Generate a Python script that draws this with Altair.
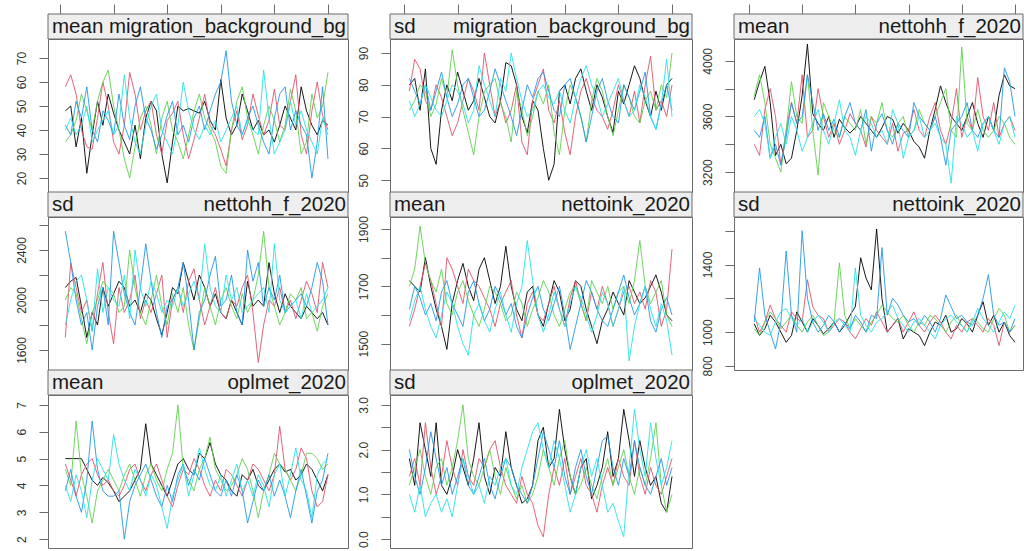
import altair as alt
import pandas as pd

CHAINS = ["1", "2", "3", "4", "5"]
COLORS = ["#000000", "#DF536B", "#61D04F", "#2297E6", "#28E2E5"]
ITER_TICKS = [0, 10, 20, 30, 40, 50]

# ---- mean migration_background_bg ----
p1 = [
    [48,50,33,45,22,38,52,42,55,47,40,35,30,42,28,45,52,48,30,18,35,50,48,49,48,47,52,44,40,61,45,38,42,55,48,40,44,38,40,35,42,50,45,40,58,48,42,38,44,42],
    [58,63,55,40,33,32,45,60,50,35,30,42,64,55,40,48,52,38,30,44,47,52,38,28,36,45,55,42,38,32,25,40,48,36,42,55,46,38,44,57,42,40,52,63,38,30,48,60,46,40],
    [35,38,44,55,48,40,52,60,65,50,40,28,20,33,45,50,42,30,45,52,40,35,28,38,48,55,45,40,35,25,22,40,52,58,45,38,30,42,50,44,35,42,57,48,30,35,55,45,50,64],
    [42,38,52,45,58,40,35,48,44,38,55,42,36,50,58,45,40,32,38,46,52,38,42,35,45,50,40,48,55,60,73,52,42,38,45,50,42,35,30,45,55,58,40,48,42,38,20,35,58,28],
    [40,45,38,42,50,35,40,44,48,38,42,63,45,35,30,42,50,55,40,35,30,42,60,48,40,36,42,38,44,35,40,45,50,38,44,40,38,65,45,30,35,40,52,42,48,40,35,30,45,38],
]
# ---- sd migration_background_bg ----
p2 = [
    [80,82,72,85,60,55,72,80,75,84,78,72,75,82,76,70,68,75,87,86,80,70,65,75,72,60,50,55,78,80,74,82,85,78,72,80,76,70,65,78,74,80,86,82,75,70,78,72,80,82],
    [78,88,85,75,72,80,76,70,64,68,75,82,78,72,90,80,70,75,68,72,80,62,58,75,80,85,72,68,75,65,58,70,78,82,76,72,70,66,72,80,75,70,78,68,80,89,72,75,70,80],
    [72,75,80,78,70,74,82,76,91,80,72,65,58,70,78,80,82,74,70,62,78,72,64,70,78,74,80,65,58,72,80,76,70,62,75,82,78,70,64,72,80,76,70,68,75,78,72,80,76,90],
    [82,78,74,80,72,78,84,76,70,74,80,82,76,70,72,78,85,80,75,70,64,72,80,76,82,84,78,72,70,80,82,76,70,62,70,78,82,75,70,68,80,76,72,78,84,70,66,74,80,72],
    [75,70,74,80,76,72,70,75,80,78,74,68,72,86,80,75,70,82,78,90,82,75,70,72,78,80,76,74,78,72,68,76,82,86,80,76,70,74,78,82,75,70,72,80,76,70,66,74,88,70],
]
# ---- mean nettohh_f_2020 ----
p3 = [
    [3720,3850,3960,3700,3320,3400,3260,3300,3500,3750,4120,3620,3550,3500,3600,3450,3580,3520,3480,3520,3600,3550,3500,3450,3520,3600,3580,3480,3550,3500,3420,3380,3300,3500,3650,3820,3700,3600,3550,3500,3600,3700,3550,3450,3600,3500,3750,3900,3820,3800],
    [3400,3320,3650,3800,3600,3250,3500,3700,3550,3900,3450,3500,3800,3600,3450,3550,3400,3500,3620,3550,3500,3380,3600,3500,3450,3400,3550,3350,3480,3500,3650,3500,3450,3600,3700,3500,3400,3550,3800,3450,3600,3500,3880,3600,3500,3700,3450,3550,3600,3500],
    [3750,3900,3700,3400,3300,3200,3500,3850,3600,3550,3900,3500,3180,3700,3600,3500,3450,3600,3550,3500,3650,3400,3600,3550,3700,3500,3450,3550,3600,3450,3500,3650,3550,3500,3600,3700,3800,3500,3450,4100,3550,3500,3650,3500,3450,3500,3600,3550,3450,3400],
    [3500,3450,3600,3300,3400,3250,3450,3700,3550,3600,3900,3700,3500,3620,3500,3580,3450,3600,3700,3550,3500,3650,3350,3550,3620,3500,3400,3550,3500,3450,3700,3600,3550,3500,3600,3450,3250,3500,3550,3600,3700,3500,3450,3550,3600,3500,3450,3950,3850,3600],
    [3600,3650,3550,3300,3450,3550,3400,3600,3500,3350,3450,3550,3650,3500,3400,3550,3720,3500,3450,3320,3500,3600,3550,3450,3500,3400,3650,3550,3300,3450,3500,3600,3450,3500,3550,3450,3400,3120,3600,3550,3450,3500,3350,3550,3600,3500,3400,3550,3600,3450],
]
# ---- sd nettohh_f_2020 ----
p4 = [
    [2100,2150,2180,1950,1700,1900,1800,2100,1950,2050,2150,2100,1950,2000,1900,2050,2000,1850,1720,1900,2100,2050,2300,2150,2000,2200,2100,1950,2050,1900,1850,2000,1900,1800,2150,1950,2000,1950,2300,2050,1900,2050,1950,1900,1850,1950,1900,1850,1900,1800],
    [1700,2300,2100,1900,2000,1750,2050,2300,1900,1650,2100,1900,2000,2200,1850,2000,1900,2050,2200,1700,2000,2100,1900,2150,2250,2000,1800,1950,2100,1900,1850,2000,1950,2100,2200,1900,1500,1800,2000,1950,2100,1900,2000,1850,2000,2150,2050,1900,2300,2100],
    [2000,2100,2050,1850,1650,1900,2000,2150,2100,2050,1900,1950,2400,2100,1900,1800,2000,2200,1950,1800,2050,1900,2100,1800,1600,1850,2100,1950,1800,2000,2100,1950,1850,2050,1900,2000,2200,2550,2100,1950,1800,1900,2050,2000,2100,1850,1900,1750,1950,2050],
    [2550,2300,2000,1800,1900,1600,1950,2100,1800,2550,2300,2050,1900,1800,2100,2450,2150,1900,1700,1950,2000,2100,2300,2000,1600,1900,2000,2200,2350,1950,2000,2200,1900,1800,2400,2150,2300,1950,2100,2000,2200,1900,1950,2000,2050,1950,2100,2300,2150,1800],
    [1800,2000,2150,2200,2000,1750,2250,1900,2100,2000,1950,2200,1850,2400,2100,1950,2150,2050,1900,2000,1950,2100,1950,2050,2150,2000,2450,2100,1950,1900,2200,2000,2100,1900,1950,2000,2050,2100,1900,2450,2000,1900,1950,2000,1850,2050,1900,1950,2000,2100],
]
# ---- mean nettoink_2020 ----
p5 = [
    [1720,1700,1680,1800,1700,1620,1560,1480,1640,1720,1780,1700,1650,1760,1800,1720,1640,1700,1840,1700,1620,1580,1680,1700,1600,1560,1640,1720,1680,1580,1620,1720,1700,1620,1560,1500,1580,1620,1680,1640,1600,1720,1680,1640,1660,1700,1740,1680,1600,1580],
    [1560,1620,1700,1780,1720,1640,1560,1800,1760,1700,1640,1760,1720,1700,1660,1620,1560,1640,1680,1720,1600,1520,1640,1680,1600,1580,1640,1700,1620,1560,1660,1720,1640,1580,1680,1620,1700,1640,1560,1620,1680,1700,1640,1680,1620,1720,1680,1560,1620,1830],
    [1700,1760,1910,1780,1720,1680,1760,1640,1600,1680,1720,1650,1600,1560,1620,1700,1680,1640,1580,1600,1680,1640,1560,1620,1660,1720,1680,1600,1560,1620,1680,1700,1640,1580,1720,1680,1640,1700,1620,1680,1700,1640,1720,1860,1700,1640,1680,1720,1600,1560],
    [1620,1700,1660,1600,1640,1580,1680,1720,1640,1600,1560,1680,1720,1640,1580,1620,1700,1660,1600,1640,1560,1520,1600,1660,1700,1620,1580,1640,1700,1600,1480,1560,1640,1720,1680,1620,1580,1560,1620,1680,1740,1660,1600,1640,1700,1580,1540,1620,1660,1600],
    [1580,1650,1700,1620,1560,1520,1600,1680,1640,1560,1500,1460,1600,1640,1580,1540,1620,1680,1600,1540,1640,1700,1860,1720,1600,1540,1600,1680,1620,1560,1640,1700,1660,1600,1540,1600,1680,1640,1560,1620,1700,1440,1560,1640,1700,1620,1560,1640,1580,1460],
]
# ---- sd nettoink_2020 ----
p6 = [
    [1050,980,1020,1100,1060,1000,940,980,1120,1060,1000,1080,1040,990,1020,1060,1000,1040,1100,1150,1440,1320,1250,1610,1200,1000,1040,1080,960,1020,1000,980,920,1000,1060,1040,1100,1000,1020,1080,1050,1000,1100,1180,1040,1100,1000,1060,980,940],
    [1100,1000,1060,1160,1080,1040,1000,1120,1080,1060,1310,1150,1100,1080,1000,1040,1080,1060,1000,960,1020,1080,1040,1120,1060,1000,1040,1080,1000,1060,1120,1040,1000,1060,1100,1060,1000,960,1040,1000,1060,1080,1040,1000,1080,1040,920,1060,1000,1040],
    [1020,980,1060,1120,1080,1020,1060,1100,1040,1000,1060,1100,1040,980,1000,1060,1410,1100,1020,1080,1040,1000,1060,1100,1160,1120,1080,1060,1100,1040,1000,1060,1040,1100,1080,1040,1000,1060,1100,1040,1000,1080,1060,1020,1000,1080,1140,1100,1000,1040],
    [1060,1380,1100,1000,900,1060,1480,1100,1000,1600,1200,1060,1000,1040,1100,1060,1000,1060,1020,1100,1060,1000,1100,1080,1500,1100,1200,1160,1100,1060,1080,1040,1100,1060,1000,1080,1220,1150,1080,1100,1060,1040,1100,1200,1340,1100,1040,1060,1000,1080],
    [1080,1040,1000,980,1060,1120,1140,1080,1040,1080,1000,1060,1100,1060,1000,1060,1080,1040,1000,1380,1100,1040,1000,1060,1080,1120,1160,1080,1040,1000,1060,1080,1040,1000,960,1040,1080,1100,1060,1040,1000,1060,1140,1080,1040,1000,1060,1120,1080,1160],
]
# ---- mean oplmet_2020 ----
p7 = [
    [5.0,5.0,5.0,5.0,4.6,4.2,4.0,4.3,4.1,3.8,3.4,3.6,3.8,4.2,4.6,6.3,4.8,4.4,4.0,3.6,4.2,4.8,5.0,4.6,4.4,5.2,5.0,5.6,4.8,4.4,4.2,3.8,3.6,4.4,4.2,4.6,4.0,3.8,4.2,4.6,4.8,4.5,4.6,4.2,4.4,4.8,4.6,4.2,3.8,4.4],
    [4.8,4.2,3.6,4.4,4.8,5.0,4.4,4.0,4.2,3.8,3.6,4.0,4.6,4.8,4.2,3.8,4.4,4.8,4.2,3.6,3.2,4.0,4.6,4.4,5.0,4.6,4.0,3.6,4.2,3.8,4.6,4.4,4.0,3.6,4.2,4.8,4.6,4.2,3.8,4.4,6.2,4.6,4.2,4.6,5.4,5.0,3.8,3.2,3.4,4.4],
    [4.6,4.0,6.4,4.4,3.6,2.6,3.8,4.2,4.6,4.2,3.8,4.4,4.8,4.2,3.6,4.4,4.8,4.2,3.8,4.6,5.2,7.0,4.6,4.2,3.8,4.6,5.0,5.8,4.6,4.2,3.8,4.0,4.4,5.0,4.6,3.8,2.8,3.8,4.4,5.2,4.8,4.6,4.2,3.8,4.4,5.2,5.2,5.0,4.6,4.8],
    [3.8,4.6,3.6,3.0,4.2,6.4,4.6,3.8,3.6,3.6,3.8,2.0,3.4,4.0,4.4,4.8,4.2,3.6,3.2,4.0,3.4,4.4,4.8,4.0,4.6,4.2,5.0,4.4,3.8,3.6,4.2,3.6,4.4,3.8,2.6,3.4,4.2,3.8,4.4,3.6,4.2,3.6,2.8,3.8,4.6,3.6,2.6,3.8,4.2,5.2],
    [4.0,3.4,4.4,3.8,2.8,4.2,5.0,4.6,4.2,5.9,4.8,4.2,3.8,4.6,4.2,3.6,4.4,4.0,3.2,2.4,3.6,4.2,4.8,3.6,4.4,5.4,4.6,4.0,3.8,4.4,3.6,4.2,4.8,3.8,4.2,3.6,4.4,4.0,3.2,4.4,4.8,3.6,4.4,5.4,4.2,3.8,2.8,4.4,4.8,5.0],
]
# ---- sd oplmet_2020 ----
p8 = [
    [1.8,1.2,2.6,2.0,1.4,2.6,1.2,1.0,1.4,2.0,1.6,1.2,1.8,2.6,1.4,1.0,1.6,1.4,2.4,1.6,1.2,0.8,0.9,1.2,2.2,2.5,1.6,1.8,2.9,2.0,1.4,1.0,1.6,1.8,0.9,1.2,1.6,2.4,1.4,1.8,2.9,2.2,1.4,2.2,1.6,1.2,1.4,0.8,0.6,1.4],
    [1.4,1.8,1.2,2.6,1.6,1.0,1.4,2.2,1.6,1.2,2.0,1.4,1.2,1.8,1.6,2.0,2.2,1.6,1.2,1.0,0.8,1.4,1.0,0.8,0.3,0.05,1.0,1.6,1.2,1.8,1.0,1.4,1.8,1.2,1.0,0.6,1.2,1.6,1.2,1.8,1.4,1.2,2.2,1.4,1.0,1.6,1.2,1.0,1.4,1.8],
    [1.2,1.6,2.0,1.4,1.0,1.6,1.8,1.2,1.6,2.2,3.0,1.8,1.4,1.2,1.6,2.0,1.4,1.0,1.6,1.2,0.9,1.2,0.8,1.0,1.4,2.0,1.6,1.2,1.8,2.2,1.4,1.0,1.2,1.6,1.2,0.9,1.4,1.8,1.2,1.6,2.0,1.4,1.0,1.6,1.2,1.8,2.6,1.2,0.6,1.0],
    [2.0,1.4,1.0,1.6,2.4,1.8,1.2,1.6,1.0,1.4,1.8,1.2,1.0,1.4,1.8,1.2,0.9,1.4,1.8,1.6,1.2,1.0,0.8,1.2,1.8,2.4,2.0,1.6,2.2,1.4,1.0,1.6,2.0,1.4,1.0,1.6,2.2,2.3,1.6,1.2,1.8,1.4,2.2,1.6,1.2,1.0,1.4,1.8,1.2,1.6],
    [1.0,0.6,1.2,0.5,0.8,1.0,0.6,0.9,0.5,1.2,1.8,1.4,1.0,1.2,0.8,1.4,1.2,1.6,1.8,1.2,1.0,1.6,2.0,2.4,2.6,2.0,1.6,2.2,1.8,1.2,0.6,1.0,1.6,2.0,1.4,1.8,1.2,0.6,0.8,0.4,0.05,1.6,2.9,2.0,1.4,2.6,1.8,1.2,1.6,2.2],
]

PANELS = [
    dict(stat="mean", var="migration_background_bg", data=p1, ydom=[14.2, 77.9],
         yticks=[20, 30, 40, 50, 60, 70], ylabs=[20, 30, 40, 50, 60, 70], fmt="d"),
    dict(stat="sd", var="migration_background_bg", data=p2, ydom=[46.3, 94.4],
         yticks=[50, 60, 70, 80, 90], ylabs=[50, 60, 70, 80, 90], fmt="d"),
    dict(stat="mean", var="nettohh_f_2020", data=p3, ydom=[3057, 4157],
         yticks=[3200, 3400, 3600, 3800, 4000], ylabs=[3200, 3600, 4000], fmt="d"),
    dict(stat="sd", var="nettohh_f_2020", data=p4, ydom=[1440, 2664],
         yticks=[1600, 1800, 2000, 2200, 2400, 2600], ylabs=[1600, 2000, 2400], fmt="d"),
    dict(stat="mean", var="nettoink_2020", data=p5, ydom=[1408, 1942],
         yticks=[1500, 1600, 1700, 1800, 1900], ylabs=[1500, 1700, 1900], fmt="d"),
    dict(stat="sd", var="nettoink_2020", data=p6, ydom=[776, 1681],
         yticks=[800, 1000, 1200, 1400, 1600], ylabs=[800, 1000, 1400], fmt="d"),
    dict(stat="mean", var="oplmet_2020", data=p7, ydom=[1.67, 7.37],
         yticks=[2, 3, 4, 5, 6, 7], ylabs=[2, 3, 4, 5, 6, 7], fmt="d"),
    dict(stat="sd", var="oplmet_2020", data=p8, ydom=[-0.2, 3.22],
         yticks=[0, 0.5, 1, 1.5, 2, 2.5, 3], ylabs=[0, 1, 2, 3], fmt=".1f"),
]

COL_W = [300, 302, 289]
COL_XDOM = [[-2.24, 53.74], [-2.61, 53.73], [-2.8, 51.5]]
PLOT_H = 153
STRIP_H = 25
FONT = "Liberation Sans"
BORDER = "#6b6b6b"


def make_panel(i, p):
    col = i % 3
    row = i // 3
    w = COL_W[col]
    rows = []
    for ci, vals in enumerate(p["data"]):
        for k, v in enumerate(vals):
            rows.append({"iter": k + 1, "value": v, "chain": CHAINS[ci]})
    df = pd.DataFrame(rows)

    if row == 0:
        xaxis = alt.Axis(orient="top", offset=STRIP_H, values=ITER_TICKS, labels=False,
                         domain=False, grid=False, tickSize=10, tickColor=BORDER, title=None)
    else:
        xaxis = None

    labs = ",".join(str(v) for v in p["ylabs"])
    yaxis = alt.Axis(
        values=p["yticks"], grid=False, domain=False, title=None,
        tickSize=9, tickColor=BORDER, labelPadding=11, labelAngle=270,
        labelAlign="center", labelBaseline="bottom", labelFont=FONT,
        labelFontSize=12, labelColor="#333333",
        labelExpr="indexof([" + labs + "], datum.value) >= 0 ? format(datum.value, '" + p["fmt"] + "') : ''",
    )

    lines = alt.Chart(df).mark_line(strokeWidth=0.9, clip=True).encode(
        x=alt.X("iter:Q", scale=alt.Scale(domain=COL_XDOM[col], nice=False, zero=False), axis=xaxis),
        y=alt.Y("value:Q", scale=alt.Scale(domain=p["ydom"], nice=False, zero=False), axis=yaxis),
        color=alt.Color("chain:N", scale=alt.Scale(domain=CHAINS, range=COLORS), legend=None),
        detail="chain:N",
    )

    one = pd.DataFrame({"k": [0]})
    strip = alt.Chart(one).mark_rect(fill="#eeeeee", stroke=BORDER, strokeWidth=1).encode(
        x=alt.value(0), x2=alt.value(w), y=alt.value(-STRIP_H), y2=alt.value(0)
    )
    left_txt = alt.Chart(one).mark_text(align="left", baseline="middle", font=FONT,
                                         fontSize=20.5, color="#1a1a1a").encode(
        x=alt.value(4), y=alt.value(-STRIP_H / 2), text=alt.value(p["stat"])
    )
    right_txt = alt.Chart(one).mark_text(align="right", baseline="middle", font=FONT,
                                          fontSize=20.5, color="#1a1a1a").encode(
        x=alt.value(w - 2), y=alt.value(-STRIP_H / 2), text=alt.value(p["var"])
    )
    return alt.layer(strip, lines, left_txt, right_txt).properties(width=w, height=PLOT_H)


panels = [make_panel(i, p) for i, p in enumerate(PANELS)]

chart = alt.concat(
    *panels, columns=3, spacing={"row": STRIP_H, "column": 42}, bounds="flush", align="each"
).properties(
    padding={"left": 14, "top": 3, "right": 0, "bottom": 0},
    background="white",
).configure_view(stroke=BORDER, strokeWidth=1)

chart.save("out.html", embed_options={"renderer": "svg", "actions": False})
